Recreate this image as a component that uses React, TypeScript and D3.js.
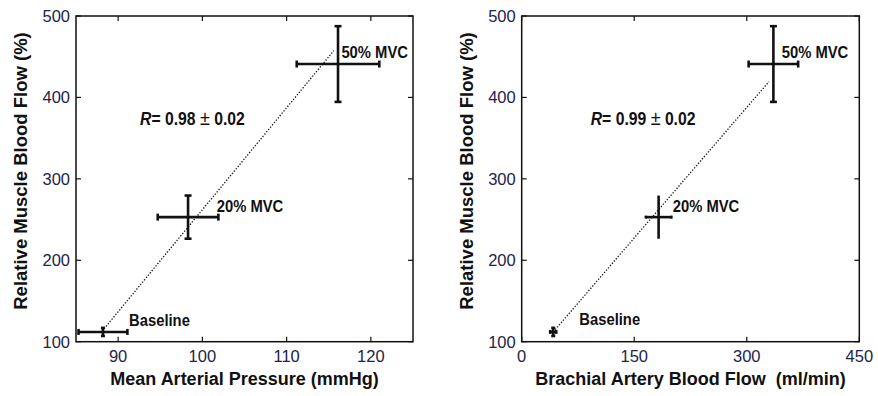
import React from "react";
import * as d3 from "d3";

const conditions = ["Baseline", "20% MVC", "50% MVC"];
const rmbf = [112, 253, 441];
const rmbfErr = [5, 26.5, 46.5];

const map = [88.2, 98.3, 116.1];
const mapErr = [2.9, 3.6, 4.9];
const mapCapsX = [2, 3.5, 3.5];
const mapCapsY = [3, 3.5, 3.5];

const babf = [42, 182.5, 335.5];
const babfErr = [4, 17, 33];
const babfCapsX = [2, 0, 3.5];
const babfCapsY = [2, 1.5, 3.5];

const mapLabelPos = [[91.3, 119.3], [101.7, 259.7], [116.5, 448]];
const babfLabelPos = [[76.8, 120.5], [201.3, 259.7], [346.6, 448]];

const mapFit = [[88.1, 113], [115.6, 457.5]];
const babfFit = [[42, 112], [329.6, 419.4]];

const yTicks = [100, 200, 300, 400, 500];
const mapTicks = [90, 100, 110, 120];
const babfTicks = [0, 150, 300, 450];

const rTextMap = ["0.98", "0.02"];
const rTextBabf = ["0.99", "0.02"];
const rPosMap = [92.6, 366];
const rPosBabf = [92, 366];

const FONT = "'Liberation Sans', Arial, sans-serif";
const TICKCOL = "#23234a";

function Panel(props: any) {
  const { left, right, top, bottom, xDomain, xTicks, xVals, xErr, capsX, capsY, labelPos, fit, xTitle, rText, rPos, yTitleX } = props;
  const x = d3.scaleLinear().domain(xDomain).range([left, right]);
  const y = d3.scaleLinear().domain([100, 500]).range([bottom, top]);
  const line = d3.line<number[]>().x((d) => x(d[0])).y((d) => y(d[1]));
  const tl = 5;
  return (
    <g>
      <rect x={left} y={top} width={right - left} height={bottom - top} fill="none" stroke="#111" strokeWidth={1.5} />
      {xTicks.map((t: number, i: number) => (
        <g key={"xt" + i}>
          <line x1={x(t)} x2={x(t)} y1={bottom} y2={bottom - tl} stroke="#111" strokeWidth={1.2} />
          <line x1={x(t)} x2={x(t)} y1={top} y2={top + tl} stroke="#111" strokeWidth={1.2} />
          <text x={x(t)} y={361.5} textAnchor="middle" fontFamily={FONT} fontSize={16.5} fill={TICKCOL}>{t}</text>
        </g>
      ))}
      {yTicks.map((t, i) => (
        <g key={"yt" + i}>
          <line x1={left} x2={left + tl} y1={y(t)} y2={y(t)} stroke="#111" strokeWidth={1.2} />
          <line x1={right} x2={right - tl} y1={y(t)} y2={y(t)} stroke="#111" strokeWidth={1.2} />
          <text x={left - 6} y={y(t) + 6} textAnchor="end" fontFamily={FONT} fontSize={16.5} fill={TICKCOL}>{t}</text>
        </g>
      ))}
      <text x={(left + right) / 2} y={385} textAnchor="middle" fontFamily={FONT} fontWeight="bold" fontSize={18} fill="#111" style={{ whiteSpace: "pre" }}>{xTitle}</text>
      <text transform={`translate(${yTitleX},171) rotate(-90)`} textAnchor="middle" fontFamily={FONT} fontWeight="bold" fontSize={18.5} fill="#111">Relative Muscle Blood Flow (%)</text>
      <path d={line(fit) || ""} fill="none" stroke="#111" strokeWidth={1.3} strokeDasharray="1.3 1.7" />
      {conditions.map((c, i) => {
        const cx = x(xVals[i]);
        const cy = y(rmbf[i]);
        const x0 = x(xVals[i] - xErr[i]);
        const x1 = x(xVals[i] + xErr[i]);
        const y0 = y(rmbf[i] - rmbfErr[i]);
        const y1 = y(rmbf[i] + rmbfErr[i]);
        const capX = capsX[i];
        const capY = capsY[i];
        return (
          <g key={c} stroke="#111" strokeWidth={2.6}>
            <line x1={x0} x2={x1} y1={cy} y2={cy} />
            {capY > 0 && <line x1={x0} x2={x0} y1={cy - capY} y2={cy + capY} />}
            {capY > 0 && <line x1={x1} x2={x1} y1={cy - capY} y2={cy + capY} />}
            <line x1={cx} x2={cx} y1={y0} y2={y1} />
            {capX > 0 && <line x1={cx - capX} x2={cx + capX} y1={y0} y2={y0} />}
            {capX > 0 && <line x1={cx - capX} x2={cx + capX} y1={y1} y2={y1} />}
          </g>
        );
      })}
      {conditions.map((c, i) => (
        <text key={"l" + c} transform={`translate(${x(labelPos[i][0])},${y(labelPos[i][1])}) scale(0.87,1)`} fontFamily={FONT} fontWeight="bold" fontSize={17} fill="#111">{c}</text>
      ))}
      <text transform={`translate(${x(rPos[0])},${y(rPos[1])}) scale(0.9,1)`} fontFamily={FONT} fontWeight="bold" fontSize={17.5} fill="#111">
        <tspan fontStyle="italic">R</tspan>
        <tspan>{"= " + rText[0] + " "}</tspan>
        <tspan fontWeight="normal" fontSize={20}>±</tspan>
        <tspan>{" " + rText[1]}</tspan>
      </text>
    </g>
  );
}

export default function App() {
  return (
    <svg width={878} height={396} style={{ position: "absolute", left: 0, top: 0, background: "#fff" }}>
      <rect width={878} height={396} fill="#fff" />
      <Panel left={76} right={413} top={16} bottom={341.7} xDomain={[85, 125]} xTicks={mapTicks} xVals={map} xErr={mapErr}
        capsX={mapCapsX} capsY={mapCapsY}
        labelPos={mapLabelPos} fit={mapFit} xTitle="Mean Arterial Pressure (mmHg)" rText={rTextMap} rPos={rPosMap} yTitleX={27} />
      <Panel left={521.7} right={859.3} top={16} bottom={341.7} xDomain={[0, 450]} xTicks={babfTicks} xVals={babf} xErr={babfErr}
        capsX={babfCapsX} capsY={babfCapsY}
        labelPos={babfLabelPos} fit={babfFit} xTitle={"Brachial Artery Blood Flow  (ml/min)"} rText={rTextBabf} rPos={rPosBabf} yTitleX={473} />
    </svg>
  );
}
